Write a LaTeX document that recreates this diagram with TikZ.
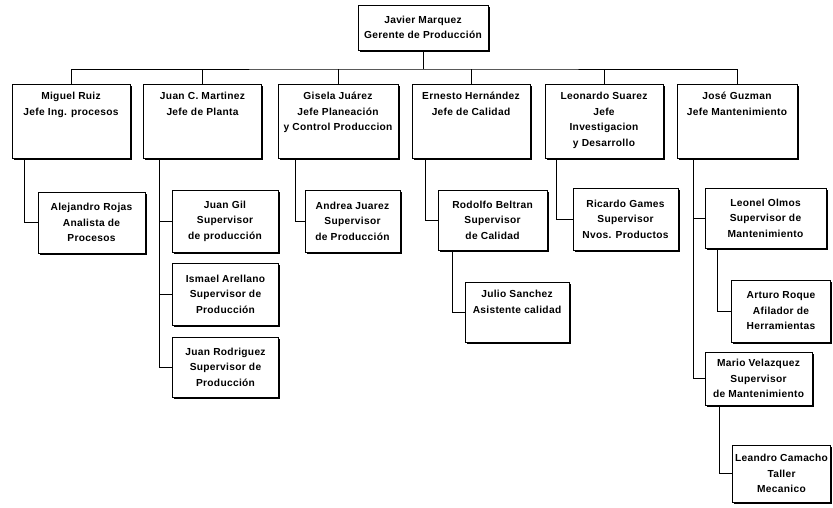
\documentclass[tikz,border=0pt]{standalone}
\usepackage{fontspec}
\setmainfont{Liberation Sans}[LetterSpace=3]
\usetikzlibrary{shadows,calc}
\newcommand{\toptext}[1]{\parbox[c][64pt][t]{114pt}{\centering\strut #1}}
\begin{document}
\begin{tikzpicture}[x=1pt,y=-1pt,
  every node/.style={font=\bfseries\fontsize{10.2}{15.5}\selectfont},
  box/.style={draw, fill=white, line width=1pt, align=center, inner sep=2pt,
    general shadow={fill=black, shadow xshift=1.8pt, shadow yshift=-1.8pt}},
  rowbox/.style={box, minimum width=118pt, minimum height=74pt, inner sep=0pt},
  wire/.style={line width=1pt}]
\useasboundingbox (0,0) rectangle (833,507);

% top
\node[box, minimum width=130pt, minimum height=45pt] (javier) at (423,27.5) {Javier Marquez\\Gerente de Producción};

% row
\node[rowbox] (miguel)   at (71,121)  {\toptext{Miguel Ruiz\\Jefe Ing. procesos}};
\node[rowbox] (juanc)    at (202.5,121) {\toptext{Juan C. Martinez\\Jefe de Planta}};
\node[rowbox, minimum width=120pt] (gisela) at (338,121) {\toptext{Gisela Juárez\\Jefe Planeación\\y Control Produccion}};
\node[rowbox] (ernesto)  at (471,121) {\toptext{Ernesto Hernández\\Jefe de Calidad}};
\node[rowbox] (leonardo) at (604,121) {\toptext{Leonardo Suarez\\Jefe\\Investigacion\\y Desarrollo}};
\node[rowbox, minimum width=120pt] (jose) at (737,121) {\toptext{José Guzman\\Jefe Mantenimiento}};

% bus
\coordinate (bus) at (423,69);
\draw[wire] (javier.south) -- (bus);
\draw[wire] (miguel.north) |- (bus) -| (jose.north);
\foreach \n in {juanc,gisela,ernesto,leonardo}
  \draw[wire] (\n.north) -- (\n.north |- bus);

% sub boxes
\node[box, minimum width=107pt, minimum height=61pt] (alejandro) at (91.5,222.5) {Alejandro Rojas\\Analista de\\Procesos};
\node[box, minimum width=106pt, minimum height=62pt] (juangil) at (225,221) {Juan Gil\\Supervisor\\de producción};
\node[box, minimum width=106pt, minimum height=62pt] (ismael) at (225.5,294) {Ismael Arellano\\Supervisor de\\Producción};
\node[box, minimum width=106pt, minimum height=60pt] (juanrod) at (225.5,367) {Juan Rodriguez\\Supervisor de\\Producción};
\node[box, minimum width=95pt, minimum height=62pt] (andrea) at (352.5,221) {Andrea Juarez\\Supervisor\\de Producción};
\node[box, minimum width=109pt, minimum height=60pt] (rodolfo) at (492.5,220) {Rodolfo Beltran\\Supervisor\\de Calidad};
\node[box, minimum width=104pt, minimum height=60pt] (julio) at (517,312) {\parbox[c][50pt][t]{98pt}{\centering\strut Julio Sanchez\\Asistente calidad}};
\node[box, minimum width=105pt, minimum height=62pt] (ricardo) at (625.5,219) {Ricardo Games\\Supervisor\\Nvos. Productos};
\node[box, minimum width=121pt, minimum height=60pt] (leonel) at (765.5,218) {Leonel Olmos\\Supervisor de\\Mantenimiento};
\node[box, minimum width=99pt, minimum height=62pt] (arturo) at (781,311) {Arturo Roque\\Afilador de\\Herramientas};
\node[box, minimum width=107pt, minimum height=53pt] (mario) at (758.5,378.5) {Mario Velazquez\\Supervisor\\de Mantenimiento};
\node[box, minimum width=98pt, minimum height=57pt] (leandro) at (781.5,473.5) {Leandro Camacho\\Taller\\Mecanico};

% drop lines
\coordinate (dm) at ($(miguel.south west)+(13,0)$);
\coordinate (dj) at ($(juanc.south west)+(16,0)$);
\coordinate (dg) at ($(gisela.south west)+(18,0)$);
\coordinate (de) at ($(ernesto.south west)+(14,0)$);
\coordinate (dl) at ($(leonardo.south west)+(12,0)$);
\coordinate (dz) at ($(jose.south west)+(17,0)$);
\coordinate (dr) at ($(rodolfo.south west)+(15,0)$);
\coordinate (do) at ($(leonel.south west)+(13,0)$);
\coordinate (dv) at ($(mario.south west)+(15,0)$);

\draw[wire] (dm) |- (alejandro.west);
\draw[wire] (dj) |- (juangil.west);
\draw[wire] (dj) |- (ismael.west);
\draw[wire] (dj) |- (juanrod.west);
\draw[wire] (dg) |- (andrea.west);
\draw[wire] (de) |- (rodolfo.west);
\draw[wire] (dl) |- (ricardo.west);
\draw[wire] (dz) |- (leonel.west);
\draw[wire] (dz) |- (mario.west);
\draw[wire] (dr) |- (julio.west);
\draw[wire] (do) |- (arturo.west);
\draw[wire] (dv) |- (leandro.west);
\end{tikzpicture}
\end{document}
